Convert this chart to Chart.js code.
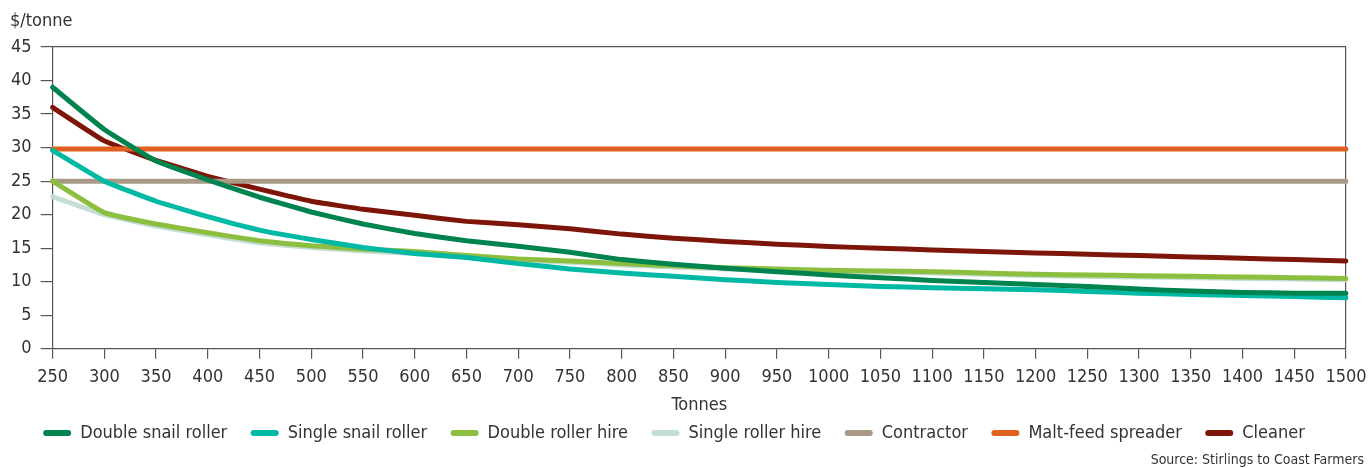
<!DOCTYPE html>
<html>
<head>
<meta charset="utf-8">
<script src="https://cdn.jsdelivr.net/npm/chart.js@4"></script>
<style>
  html, body { margin: 0; padding: 0; background: #fff; }
  #wrap { position: relative; width: 1368px; height: 468px; overflow: hidden; }
  canvas { position: absolute; left: 0; top: 0; }
  .note { position: absolute; font-family: "DejaVu Sans Condensed", "DejaVu Sans", sans-serif; color: #333; white-space: nowrap; }
  #unit { left: 10px; top: 9px; font-size: 18px; }
  #source { right: 4px; top: 451px; font-size: 14px; }
</style>
</head>
<body>
<div id="wrap">
  <canvas id="c" width="1368" height="468"></canvas>
  <div class="note" id="unit">$/tonne</div>
  <div class="note" id="source">Source: Stirlings to Coast Farmers</div>
</div>
<script>
// Tonnes processed (x axis categories)
const tonnes = [250, 300, 350, 400, 450, 500, 550, 600, 650, 700, 750, 800, 850,
                900, 950, 1000, 1050, 1100, 1150, 1200, 1250, 1300, 1350, 1400, 1450, 1500];

// Cost in $/tonne for each option
const doubleSnailRoller = [39.0, 32.7, 28.0, 25.2, 22.6, 20.4, 18.6, 17.2, 16.1, 15.3, 14.4, 13.3, 12.6,
                           12.0, 11.5, 11.0, 10.6, 10.2, 9.9, 9.6, 9.3, 8.9, 8.6, 8.4, 8.3, 8.3];
const singleSnailRoller = [29.6, 25.0, 22.0, 19.7, 17.7, 16.3, 15.1, 14.2, 13.6, 12.7, 11.9, 11.3, 10.8,
                           10.3, 9.9, 9.6, 9.3, 9.1, 8.95, 8.8, 8.55, 8.3, 8.1, 7.95, 7.8, 7.6];
const doubleRollerHire  = [25.0, 20.3, 18.6, 17.3, 16.1, 15.35, 14.85, 14.5, 13.9, 13.4, 13.1, 12.7, 12.4,
                           12.1, 11.9, 11.7, 11.6, 11.5, 11.3, 11.1, 11.0, 10.9, 10.8, 10.7, 10.6, 10.5];
const singleRollerHire  = [22.7, 20.0, 18.3, 17.0, 15.8, 15.1, 14.6, 14.2, 13.7, 13.2, 12.9, 12.5, 12.2,
                           11.9, 11.7, 11.5, 11.4, 11.3, 11.1, 10.9, 10.8, 10.7, 10.6, 10.5, 10.4, 10.3];
const contractor        = [25, 25, 25, 25, 25, 25, 25, 25, 25, 25, 25, 25, 25,
                           25, 25, 25, 25, 25, 25, 25, 25, 25, 25, 25, 25, 25];
const maltFeedSpreader  = [29.8, 29.8, 29.8, 29.8, 29.8, 29.8, 29.8, 29.8, 29.8, 29.8, 29.8, 29.8, 29.8,
                           29.8, 29.8, 29.8, 29.8, 29.8, 29.8, 29.8, 29.8, 29.8, 29.8, 29.8, 29.8, 29.8];
const cleaner           = [36.0, 31.0, 28.1, 25.7, 23.8, 22.0, 20.8, 19.9, 19.0, 18.5, 17.9, 17.1, 16.5,
                           16.0, 15.6, 15.25, 15.0, 14.75, 14.5, 14.3, 14.1, 13.9, 13.7, 13.5, 13.3, 13.1];

const yTicks = [0, 5, 10, 15, 20, 25, 30, 35, 40, 45];

const seriesNames  = ['Double snail roller', 'Single snail roller', 'Double roller hire', 'Single roller hire',
                      'Contractor', 'Malt-feed spreader', 'Cleaner'];
const seriesValues = [doubleSnailRoller, singleSnailRoller, doubleRollerHire, singleRollerHire,
                      contractor, maltFeedSpreader, cleaner];
const seriesColors = ['#00844f', '#00b9a5', '#8cbe3f', '#c4ddd5', '#a89a86', '#e0601f', '#7d1509'];

const FONT = '"DejaVu Sans Condensed", "DejaVu Sans", sans-serif';
const AXIS = '#555555';

const datasets = seriesNames.map((name, i) => ({
  label: name,
  data: seriesValues[i],
  borderColor: seriesColors[i],
  backgroundColor: seriesColors[i],
  borderWidth: 5,
  pointRadius: 0,
  pointHoverRadius: 0,
  tension: 0.1,
  borderCapStyle: 'round',
  borderJoinStyle: 'round'
}));

new Chart(document.getElementById('c'), {
  type: 'line',
  data: { labels: tonnes, datasets },
  options: {
    responsive: false,
    animation: false,
    layout: { padding: { left: 2, right: 22, top: 47, bottom: 16 } },
    plugins: {
      tooltip: { enabled: false },
      legend: {
        position: 'bottom',
        labels: {
          color: '#333',
          font: { family: FONT, size: 18 },
          boxWidth: 28,
          boxHeight: 6,
          useBorderRadius: true,
          borderRadius: 3,
          padding: 8,
          generateLabels(chart) {
            const items = Chart.defaults.plugins.legend.labels.generateLabels(chart);
            items.forEach((it, i) => {
              it.lineWidth = 0;
              it.fillStyle = seriesColors[it.datasetIndex];
              it.strokeStyle = 'transparent';
              // trailing gap between legend entries (not after the last one)
              if (i < items.length - 1) it.text = it.text + '\u00a0\u00a0\u00a0';
            });
            return items;
          }
        }
      }
    },
    scales: {
      x: {
        offset: false,
        afterFit(scale) { scale.paddingRight = 0; },
        title: { display: true, text: 'Tonnes', color: '#333', font: { family: FONT, size: 18 }, padding: { top: -2, bottom: 0 } },
        ticks: { color: '#333', font: { family: FONT, size: 18 }, maxRotation: 0, autoSkip: false, padding: 8 },
        grid: {
          drawOnChartArea: true,
          color: ctx => (ctx.index === tonnes.length - 1 ? AXIS : 'rgba(0,0,0,0)'),
          tickColor: AXIS,
          tickLength: 10,
          lineWidth: 1.2
        },
        border: { color: AXIS, width: 1.2 }
      },
      y: {
        min: 0,
        max: 45,
        afterBuildTicks(axis) { axis.ticks = yTicks.map(v => ({ value: v })); },
        ticks: { color: '#333', font: { family: FONT, size: 18 }, padding: 9 },
        grid: {
          color: ctx => (ctx.tick && ctx.tick.value === 45 ? AXIS : 'rgba(0,0,0,0)'),
          tickColor: AXIS,
          tickLength: 12,
          lineWidth: 1.2
        },
        border: { color: AXIS, width: 1.2 }
      }
    }
  }
});
</script>
</body>
</html>
